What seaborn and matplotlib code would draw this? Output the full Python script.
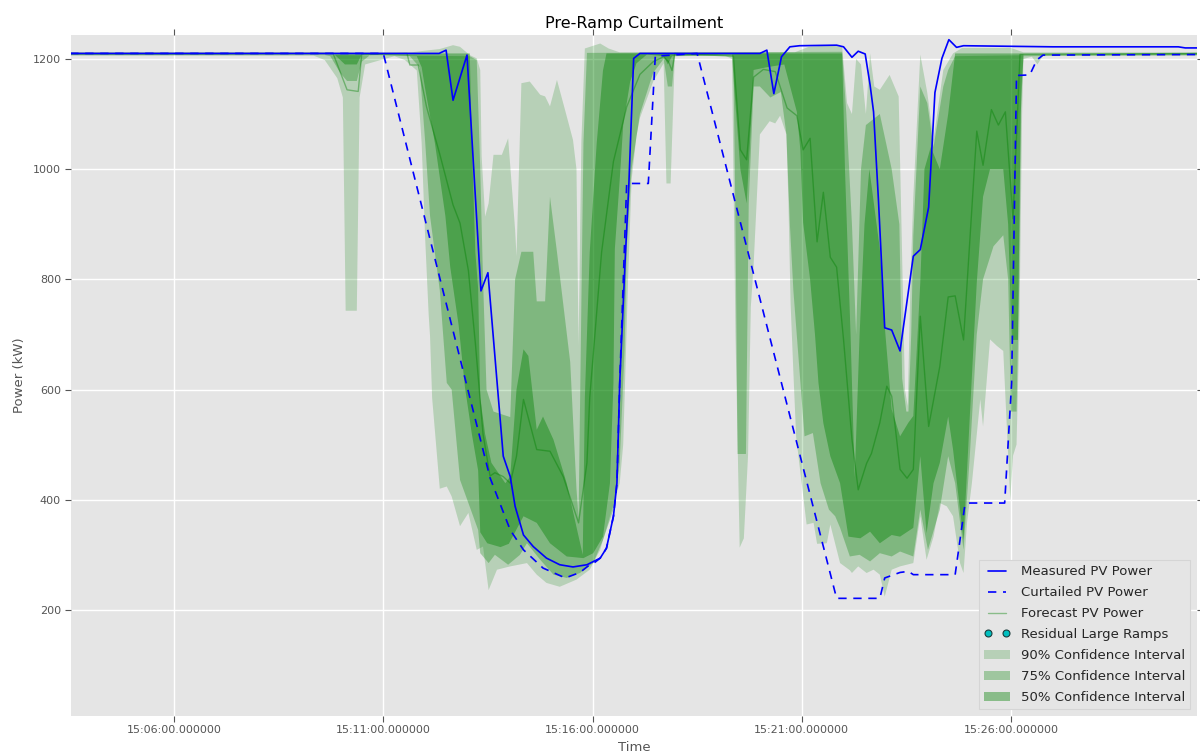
import numpy as np
import pandas as pd
import matplotlib
matplotlib.use("Agg")
import matplotlib.pyplot as plt
import matplotlib.dates as mdates
from matplotlib.lines import Line2D
import seaborn as sns

# time stamps are seconds after 15:00:00, values in kW
BASE = "2016-06-01 15:00:00"

MEASURED = [(211,1210),(740,1210),(750,1216),(760,1125),(780,1207),(800,779),(810,812),(832,479),(842,442),
            (849,388),(861,336),(875,315),(894,294),(913,282),(932,278),(952,282),(971,294),(980,312),(990,370),
            (995,430),(999,612),(1007,840),(1012,969),(1019,1201),(1028,1210),(1200,1210),(1210,1216),(1220,1137),
            (1231,1204),(1243,1222),(1257,1224),(1310,1225),(1320,1222),(1332,1203),(1341,1214),(1351,1209),
            (1358,1153),(1363,1104),(1370,944),(1379,712),(1389,708),(1401,670),(1420,842),(1430,854),(1442,931),
            (1451,1139),(1461,1201),(1471,1235),(1482,1221),(1492,1224),(1620,1222),(1800,1222),(1810,1220),(1827,1220)]

CURTAILED = [(211,1210),(660,1210),(813,440),(842,345),(861,309),(889,276),(921,258),(942,268),(956,282),(962,285),
             (971,294),(980,312),(990,370),(995,430),(999,612),(1005,830),(1009,974),(1040,974),(1050,1205),(1110,1210),
             (1310,221),(1372,221),(1379,258),(1401,268),(1413,270),(1420,264),(1480,264),(1494,391),(1501,394),
             (1551,394),(1561,612),(1568,1170),(1587,1171),(1597,1198),(1606,1207),(1827,1208)]

FORECAST = [(211,1210),(588,1210),(608,1144),(624,1141),(629,1208),(694,1210),(698,1189),(710,1189),(722,1113),
            (741,1027),(760,935),(770,902),(782,816),(792,684),(803,519),(813,443),(820,449),(832,442),(842,430),
            (851,479),(861,582),(880,491),(899,488),(918,442),(940,358),(952,467),(956,585),(973,849),(990,1014),
            (1009,1113),(1028,1172),(1047,1195),(1062,1204),(1069,1195),(1074,1179),(1078,1210),(1162,1205),
            (1172,1035),(1181,1017),(1191,1167),(1205,1181),(1222,1177),(1239,1111),(1253,1097),(1262,1035),
            (1272,1056),(1282,868),(1291,958),(1301,840),(1310,822),(1320,690),(1332,510),(1341,418),(1353,466),
            (1360,484),(1372,540),(1382,606),(1389,588),(1401,455),(1411,439),(1420,455),(1430,733),(1442,533),
            (1458,642),(1470,768),(1480,770),(1492,690),(1511,1069),(1520,1007),(1532,1108),(1542,1080),
            (1552,1104),(1563,910),(1573,1208),(1827,1210)]

LOW_90 = [(211,1206),(560,1206),(576,1198),(594,1165),(602,1130),(606,743),(622,743),(626,1130),(634,1190),
          (662,1200),(676,1205),(691,1198),(708,1179),(715,1047),(720,875),(725,737),(727,697),(730,585),(741,420),
          (751,424),(758,406),(770,352),(782,376),(794,309),(803,315),(811,236),(823,273),(842,279),(866,285),
          (880,264),(894,249),(913,242),(937,255),(956,273),(971,309),(985,370),(999,430),(1004,500),(1011,800),
          (1016,980),(1023,1060),(1028,1093),(1047,1159),(1062,1192),(1066,974),(1072,974),(1078,1205),(1150,1206),
          (1160,1200),(1165,700),(1171,313),(1177,330),(1183,480),(1187,750),(1191,826),(1200,1063),(1214,1087),
          (1222,1083),(1229,1097),(1238,1063),(1241,938),(1244,757),(1248,632),(1252,514),(1267,355),(1277,358),
          (1282,320),(1296,321),(1301,355),(1315,285),(1329,272),(1332,267),(1341,279),(1353,267),(1363,273),
          (1372,264),(1379,224),(1389,273),(1401,279),(1420,285),(1430,370),(1439,291),(1449,333),(1458,394),
          (1468,388),(1477,370),(1487,285),(1492,267),(1497,358),(1504,430),(1516,582),(1520,533),(1530,691),
          (1540,679),(1549,670),(1559,400),(1563,480),(1568,500),(1572,700),(1576,1100),(1578,1200),(1590,1204),
          (1598,1190),(1606,1206),(1827,1206)]

HIGH_90 = [(211,1212),(700,1212),(720,1215),(741,1218),(760,1225),(770,1222),(784,1207),(794,1201),(799,1180),
           (801,1023),(806,914),(811,938),(818,1026),(830,1026),(839,1056),(849,890),(851,842),(858,1156),(870,1159),
           (885,1135),(892,1132),(899,1114),(909,1162),(923,1096),(932,1053),(937,1000),(940,680),(944,1050),
           (949,1219),(971,1228),(983,1219),(999,1212),(1250,1212),(1270,1222),(1300,1225),(1318,1222),(1325,1120),
           (1332,1100),(1338,1200),(1345,1190),(1352,1100),(1358,1210),(1364,1150),(1372,1144),(1386,1171),
           (1399,1132),(1403,900),(1408,600),(1412,570),(1416,800),(1420,950),(1430,1208),(1440,1139),(1449,1053),
           (1463,1180),(1477,1210),(1490,1220),(1560,1220),(1578,1212),(1827,1212)]

LOW_75 = [(211,1207),(576,1207),(584,1205),(598,1175),(608,1160),(622,1160),(629,1195),(641,1207),(698,1205),
          (712,1185),(720,1050),(727,915),(741,780),(751,612),(758,600),(770,436),(796,345),(799,303),(811,285),
          (820,300),(839,282),(856,300),(866,321),(885,291),(904,264),(923,258),(942,267),(961,285),(975,327),
          (990,382),(999,467),(1006,673),(1009,855),(1016,1000),(1028,1100),(1047,1175),(1062,1200),(1068,1150),
          (1074,1150),(1078,1207),(1162,1205),(1165,900),(1168,483),(1180,483),(1184,938),(1191,1150),(1200,1150),
          (1215,1130),(1230,1140),(1238,1063),(1243,900),(1248,780),(1264,515),(1276,521),(1287,430),(1299,382),
          (1308,370),(1315,349),(1329,297),(1343,300),(1358,288),(1372,303),(1389,297),(1401,306),(1420,297),
          (1430,382),(1441,309),(1458,382),(1470,479),(1480,430),(1492,309),(1501,479),(1511,700),(1520,800),
          (1535,860),(1549,880),(1556,800),(1560,560),(1568,560),(1572,800),(1575,1150),(1578,1205),(1827,1207)]

HIGH_75 = [(211,1211),(784,1205),(794,1198),(799,1000),(803,800),(808,600),(818,560),(842,550),(849,800),
           (858,850),(875,850),(880,760),(892,760),(899,950),(909,850),(928,650),(937,420),(940,367),(947,1047),
           (952,1211),(1318,1213),(1324,1100),(1332,900),(1338,700),(1345,1000),(1352,1080),(1372,1100),(1389,1000),
           (1400,900),(1404,620),(1410,560),(1413,560),(1417,700),(1420,880),(1430,1150),(1440,1120),(1449,1040),
           (1463,1150),(1470,1180),(1480,1205),(1827,1211)]

LOW_50 = [(211,1208),(590,1208),(605,1190),(622,1190),(629,1208),(708,1205),(715,1185),(720,1146),(734,1047),
          (749,915),(756,822),(768,717),(777,605),(787,519),(796,453),(799,341),(809,321),(828,314),(840,320),
          (848,339),(861,370),(880,358),(899,321),(923,297),(947,294),(961,303),(975,333),(985,430),(990,612),
          (992,855),(999,981),(1004,1080),(1014,1159),(1023,1192),(1038,1208),(1062,1205),(1068,1190),(1074,1205),
          (1160,1208),(1163,1150),(1172,1000),(1181,938),(1188,1100),(1191,1180),(1210,1185),(1235,1190),
          (1253,1104),(1258,1035),(1262,903),(1272,800),(1279,700),(1284,612),(1291,539),(1301,479),(1315,430),
          (1327,333),(1344,330),(1358,342),(1372,321),(1389,336),(1401,333),(1420,349),(1430,479),(1439,339),
          (1449,430),(1458,467),(1470,551),(1477,491),(1492,327),(1501,551),(1511,794),(1520,950),(1530,1000),
          (1549,1000),(1556,900),(1561,690),(1570,690),(1574,1100),(1578,1208),(1827,1208)]

HIGH_50 = [(211,1210),(784,1210),(787,1047),(792,849),(796,783),(799,585),(806,519),(815,467),(835,430),(842,442),
           (851,600),(861,673),(868,661),(880,527),(889,551),(904,509),(923,430),(939,339),(946,300),(949,585),
           (956,849),(966,1047),(975,1179),(980,1210),(1318,1210),(1322,1000),(1330,700),(1336,440),(1343,700),
           (1350,900),(1357,1000),(1372,855),(1380,700),(1389,564),(1401,515),(1413,540),(1420,552),(1430,794),
           (1436,1000),(1445,1040),(1458,1000),(1470,1100),(1480,1210),(1827,1210)]

RESIDUAL_RAMPS = []  # no residual large ramps in this window

LABELS = ["Measured PV Power", "Curtailed PV Power", "Forecast PV Power", "Residual Large Ramps",
          "90% Confidence Interval", "75% Confidence Interval", "50% Confidence Interval"]
Y_TICKS = [200, 400, 600, 800, 1000, 1200]


def frame(pairs):
    if len(pairs) == 0:
        return pd.DataFrame({"time": pd.to_datetime([]), "kW": []})
    s, v = zip(*pairs)
    return pd.DataFrame({"time": pd.Timestamp(BASE) + pd.to_timedelta(list(s), unit="s"),
                         "kW": np.asarray(v, dtype=float)})


sns.set_theme(style="darkgrid", rc={
    "axes.facecolor": "#E5E5E5",
    "grid.color": "white",
    "grid.linewidth": 1.0,
    "axes.edgecolor": "#E5E5E5",
    "xtick.bottom": True, "xtick.top": True,
    "ytick.left": True, "ytick.right": True,
    "xtick.direction": "out", "ytick.direction": "out",
    "xtick.color": "#555555", "ytick.color": "#555555",
    "xtick.major.size": 4, "ytick.major.size": 4,
    "xtick.major.width": 0.8, "ytick.major.width": 0.8,
    "axes.labelcolor": "#555555",
})
plt.rcParams["font.family"] = ["DejaVu Sans"]

fig = plt.figure(figsize=(12, 7.56), dpi=100)
ax = fig.add_axes([0.0589, 0.0533, 0.9386, 0.9008])

green = (0.0, 0.5, 0.0)
bands = [(LOW_90, HIGH_90, 0.2, LABELS[4]), (LOW_75, HIGH_75, 0.3, LABELS[5]), (LOW_50, HIGH_50, 0.4, LABELS[6])]
band_handles = []
for lo, hi, a, lab in bands:
    lo_df, hi_df = frame(lo), frame(hi)
    xs = np.concatenate([lo_df["time"].values, hi_df["time"].values[::-1]])
    ys = np.concatenate([lo_df["kW"].values, hi_df["kW"].values[::-1]])
    p = ax.fill(xs, ys, color=green, alpha=a, lw=0, label=lab)
    band_handles.append(p[0])

fc = frame(FORECAST)
sns.lineplot(data=fc, x="time", y="kW", ax=ax, color=green, alpha=0.4, lw=1.0, label=LABELS[2])
ms = frame(MEASURED)
sns.lineplot(data=ms, x="time", y="kW", ax=ax, color=(0, 0, 1), lw=1.2, label=LABELS[0])
ct = frame(CURTAILED)
sns.lineplot(data=ct, x="time", y="kW", ax=ax, color=(0, 0, 1), lw=1.2, linestyle=(0, (5, 4)), label=LABELS[1])
rr = frame(RESIDUAL_RAMPS)
ramp_handle, = ax.plot(rr["time"], rr["kW"], "o", color=(0, 0.75, 0.75), mec="#1b3b3b", mew=0.8, ms=5,
                       label=LABELS[3])

ax.set_xlim(pd.Timestamp(BASE) + pd.Timedelta(seconds=211.7), pd.Timestamp(BASE) + pd.Timedelta(seconds=1826.8))
ax.set_ylim(8, 1244)
ax.set_yticks(Y_TICKS)
ax.xaxis.set_major_locator(mdates.MinuteLocator(byminute=range(1, 60, 5)))
ax.xaxis.set_major_formatter(mdates.DateFormatter("%H:%M:%S.%f"))
ax.tick_params(axis="both", labelsize=8, pad=3)
for sp in ax.spines.values():
    sp.set_visible(False)

ax.set_title("Pre-Ramp Curtailment", fontsize=11.5, color="black", pad=4.5)
ax.set_xlabel("Time", fontsize=9.5, labelpad=4)
ax.set_ylabel("Power (kW)", fontsize=9.5, labelpad=5)

h_meas = Line2D([], [], color=(0, 0, 1), lw=1.2)
h_curt = Line2D([], [], color=(0, 0, 1), lw=1.2, linestyle=(0, (5, 4)))
h_fc = Line2D([], [], color=green, alpha=0.4, lw=1.0)
handles = [h_meas, h_curt, h_fc, ramp_handle] + band_handles
leg = ax.legend(handles, LABELS, loc="lower right", fontsize=9.5, numpoints=2, fancybox=False,
                facecolor="#E5E5E5", edgecolor="#D5D5D5", framealpha=1.0, borderaxespad=0.5,
                labelspacing=0.6)
leg.get_frame().set_linewidth(0.8)

fig.savefig("out.png", dpi=100)
